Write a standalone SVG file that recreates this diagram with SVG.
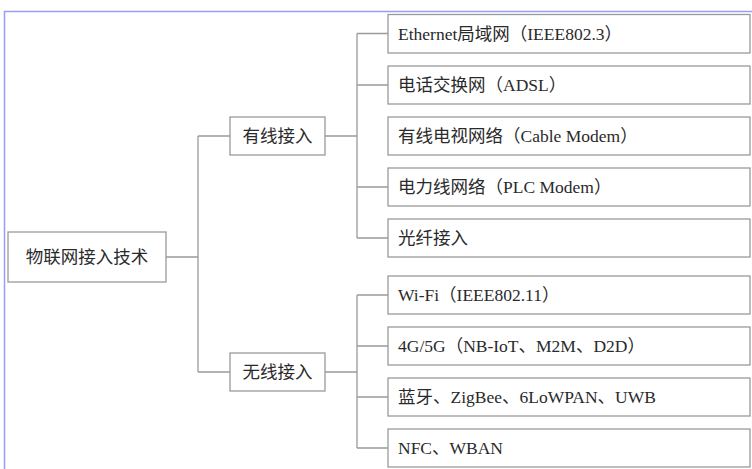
<svg xmlns="http://www.w3.org/2000/svg" width="752" height="469" viewBox="0 0 752 469">
<style>
.frame{fill:none;stroke:#9a9aff;stroke-width:1.5}
.box{fill:#fff;stroke:#9a9a9a;stroke-width:1.3}
.ln{fill:none;stroke:#9a9a9a;stroke-width:1.3}
.t{font-family:"Liberation Serif","Noto Sans CJK SC",serif;font-size:17.5px;fill:#2a2a2a}
.c{text-anchor:middle}
</style>
<rect width="752" height="469" fill="#fff"/>
<path class="frame" d="M4.5,469 V11.5 H752"/>
<g id="connectors">
<path class="ln" d="M166,257 H198 M198,136 V372 M198,136 H230 M198,372 H230"/>
<path class="ln" d="M325,136 H357 M357,33.5 V238 M357,33.5 H388 M357,85 H388 M357,187 H388 M357,238 H388"/>
<path class="ln" d="M325,372 H357 M357,295 V448 M357,295 H388 M357,346 H388 M357,397 H388 M357,448 H388"/>
</g>
<g id="root"><rect class="box" x="8" y="232" width="158" height="50"/><text class="t c" x="87" y="263">物联网接入技术</text></g>
<g id="wired"><rect class="box" x="230" y="117" width="95" height="38"/><text class="t c" x="277.5" y="142">有线接入</text></g>
<g id="wireless"><rect class="box" x="230" y="353" width="95" height="38"/><text class="t c" x="277.5" y="378">无线接入</text></g>
<g id="n1"><rect class="box" x="388" y="14.5" width="362" height="38.5"/><text class="t" x="398" y="40">Ethernet局域网（IEEE802.3）</text></g>
<g id="n2"><rect class="box" x="388" y="66" width="362" height="38"/><text class="t" x="398" y="91">电话交换网（ADSL）</text></g>
<g id="n3"><rect class="box" x="388" y="117" width="362" height="38"/><text class="t" x="398" y="142">有线电视网络（Cable Modem）</text></g>
<g id="n4"><rect class="box" x="388" y="168" width="362" height="38"/><text class="t" x="398" y="193">电力线网络（PLC Modem）</text></g>
<g id="n5"><rect class="box" x="388" y="219" width="362" height="38"/><text class="t" x="398" y="244">光纤接入</text></g>
<g id="n6"><rect class="box" x="388" y="276" width="362" height="38"/><text class="t" x="398" y="301">Wi-Fi（IEEE802.11）</text></g>
<g id="n7"><rect class="box" x="388" y="327" width="362" height="38"/><text class="t" x="398" y="352">4G/5G（NB-IoT、M2M、D2D）</text></g>
<g id="n8"><rect class="box" x="388" y="378" width="362" height="38"/><text class="t" x="398" y="403">蓝牙、ZigBee、6LoWPAN、UWB</text></g>
<g id="n9"><rect class="box" x="388" y="429" width="362" height="38"/><text class="t" x="398" y="454">NFC、WBAN</text></g>
</svg>
